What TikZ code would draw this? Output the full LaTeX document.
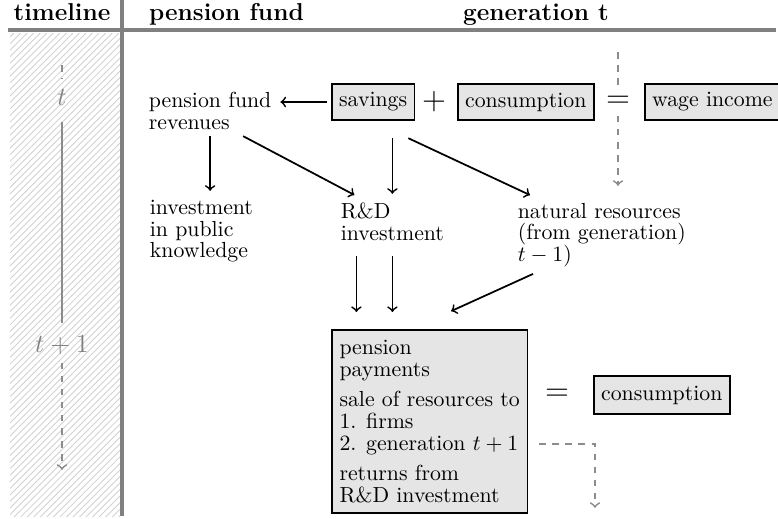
\documentclass[tikz,border=0pt]{standalone}
\usepackage{xcolor}
\usepackage{tikz}
\usetikzlibrary{arrows, positioning, patterns}
\usepackage{amsmath}

\tikzset{
	box/.style = {draw, thick, fill=gray!20, minimum height=16.8pt},
	plain/.style = {align=left, inner sep=2.75pt, font=\fontsize{10}{10}\selectfont},
	head/.style = {anchor=base, font=\fontsize{11.2}{13}\selectfont\bfseries},
	timeflow/.style = {gray!90, thick, dashed},
	rule/.style = {-, gray, line width=2pt}
}

\begin{document}
\begin{tikzpicture}[->,
				>=to,
				shorten >=1pt,
				x=0.4587pt, y=-0.4587pt,
				thick]
				\useasboundingbox (0,0) rectangle (778,518);
				% timeline column and header rules
				\fill[pattern=north east lines, pattern color=gray!35] (10,33) rectangle (120,516);
				\draw[rule] (8,30) -- (778,30);
				\draw[rule] (122,0) -- (122,518);
				\node at (62,20) (hdtime) [head] {timeline};
				\node at (141,20) (hdfund) [head, anchor=base west] {pension fund};
				\node at (536,20) (hdgen) [head] {generation t};
				\node at (62,97) (tnow) [gray, font=\large] {$t$};
				\node at (62,345) (tnext) [gray, font=\large] {$t+1$};
				\coordinate (ttop) at (62,65);
				\coordinate (tend) at (62,472);
				\draw[-, timeflow] (ttop) -- (tnow);
				\draw[-, gray!90, thick, shorten <=4pt, shorten >=2pt] (tnow) -- (tnext);
				\draw[timeflow] (tnext) -- (tend);
				% generation t
				\node at (331,102) (sav) [box, anchor=west] {savings};
				\node at (434,102) (plus) {\Large $+$};
				\node at (457,102) (cons) [box, anchor=west] {consumption};
				\node at (618,102) (eqtop) {\Large $=$};
				\node at (644,102) (wage) [box, anchor=west] {wage income};
				\coordinate (wtop) at (618,52);
				\coordinate (wbot) at (618,188);
				\draw[-, timeflow] (wtop) -- (eqtop);
				\draw[timeflow] (eqtop) -- (wbot);
				% pension fund
				\node at (142,85) (revenue) [plain, anchor=north west] {pension fund\\revenues};
				\node at (143,193) (invest) [plain, anchor=north west] {investment\\in public\\knowledge};
				\node at (334,196) (rnd) [plain, anchor=north west] {R\&D\\investment};
				\node at (511,196) (natres) [plain, anchor=north west] {natural resources\\(from generation)\\$t-1$)};
				\node at (331,329) (pay) [box, plain, anchor=north west, inner sep=3.5pt, minimum height=84pt] {pension\\payments\\[4pt]sale of resources to\\1. firms\\2. generation $t+1$\\[4pt]returns from\\R\&D investment};
				\node at (557,395) (eqpay) {\Large $=$};
				\node at (593,395) (conspay) [box, anchor=west, minimum height=17.5pt] {consumption};
				\coordinate (payout) at (595,510);
				\draw[shorten <=2pt] (sav.west) -- (revenue.east |- sav.west);
				\draw (revenue.south) -- (revenue.south |- invest.north);
				\draw ([shift={(33,0)}]revenue.south) -- ([shift={(-36,0)}]rnd.north);
				\draw[shorten <=7.5pt] (sav.south -| rnd.north) -- (rnd.north);
				\draw ([shift={(-7,17)}]sav.south east) -- ([shift={(21,0)}]natres.north west);
				\draw[shorten <=4pt, shorten >=7.8pt] ([shift={(-36,0)}]rnd.south) -- ([shift={(-36,0)}]rnd.south |- pay.north);
				\draw[shorten <=4pt, shorten >=7.8pt] (rnd.south) -- (rnd.south |- pay.north);
				\draw ([shift={(22,0)}]natres.south west) -- ([shift={(19.5,-17)}]pay.north);
				\draw[timeflow, shorten <=5pt] ([shift={(0,22.5)}]pay.east) -| (payout);
			\end{tikzpicture}
\end{document}
